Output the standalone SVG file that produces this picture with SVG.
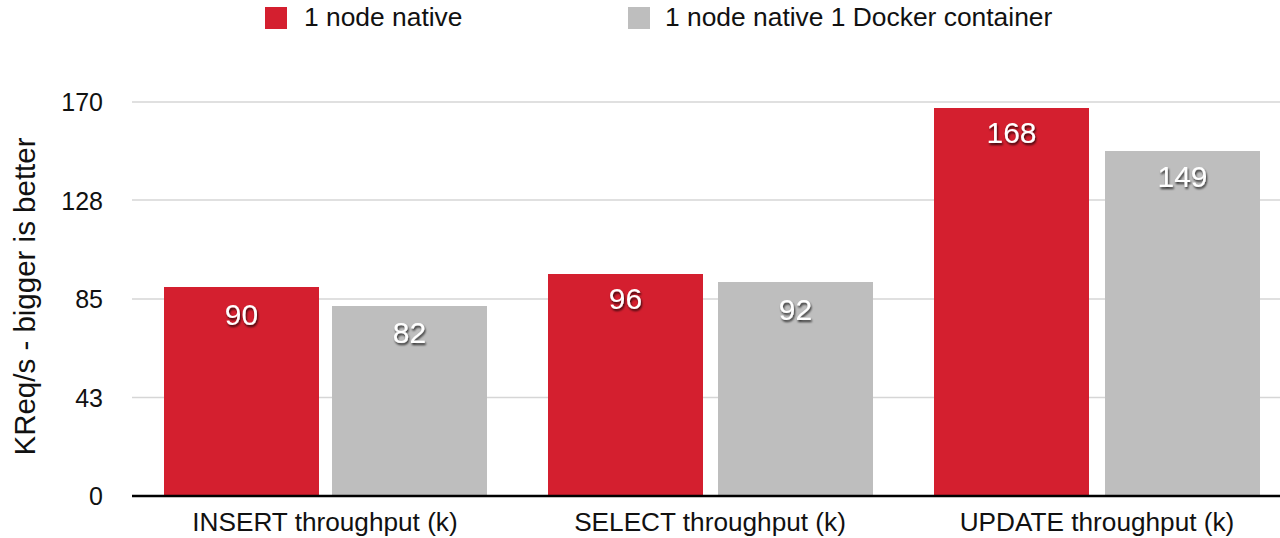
<svg xmlns="http://www.w3.org/2000/svg" width="1280" height="538" viewBox="0 0 1280 538">
<defs>
<style>
.t{font-family:"Liberation Sans",Arial,Helvetica,sans-serif;fill:#111}
.grid{stroke:#d6d6d6;stroke-width:1.5}
.red{fill:#d41f2f}
.gray{fill:#bebebe}
.val{font-family:"Liberation Sans",Arial,Helvetica,sans-serif;font-size:30px;fill:#fff;text-anchor:middle;filter:url(#sh)}
.tick{font-size:25px;text-anchor:end}
.cat{font-size:26.2px;text-anchor:middle}
.leg{font-size:26.4px}
</style>
<filter id="sh" x="-20%" y="-20%" width="140%" height="160%">
<feDropShadow dx="1" dy="2" stdDeviation="1.2" flood-color="#000" flood-opacity="0.75"/>
</filter>
</defs>
<rect width="1280" height="538" fill="#fff"/>
<g id="legend">
<rect class="red" x="265" y="7" width="22" height="22"/>
<text class="t leg" x="304" y="26">1 node native</text>
<rect class="gray" x="628" y="7" width="22" height="22"/>
<text class="t leg" x="665" y="26">1 node native 1 Docker container</text>
</g>
<g id="grid">
<line class="grid" x1="132" y1="102" x2="1280" y2="102"/>
<line class="grid" x1="132" y1="200" x2="1280" y2="200"/>
<line class="grid" x1="132" y1="299" x2="1280" y2="299"/>
<line class="grid" x1="132" y1="397.5" x2="1280" y2="397.5"/>
</g>
<g id="yaxis">
<text class="t tick" x="103" y="111">170</text>
<text class="t tick" x="103" y="210">128</text>
<text class="t tick" x="103" y="308">85</text>
<text class="t tick" x="103" y="407">43</text>
<text class="t tick" x="103" y="505">0</text>
<text class="t" font-size="29.5" text-anchor="middle" transform="translate(35 296.5) rotate(-90)">KReq/s - bigger is better</text>
</g>
<g id="insert">
<rect class="red" x="164" y="287" width="155" height="209"/>
<text class="val" x="241.5" y="325">90</text>
<rect class="gray" x="332" y="306" width="155" height="190"/>
<text class="val" x="409.5" y="343">82</text>
<text class="t cat" x="325" y="531">INSERT throughput (k)</text>
</g>
<g id="select">
<rect class="red" x="548" y="274" width="155" height="222"/>
<text class="val" x="625.5" y="309">96</text>
<rect class="gray" x="718" y="282" width="155" height="214"/>
<text class="val" x="795.5" y="320">92</text>
<text class="t cat" x="710" y="531">SELECT throughput (k)</text>
</g>
<g id="update">
<rect class="red" x="934" y="108" width="155" height="388"/>
<text class="val" x="1011.5" y="143">168</text>
<rect class="gray" x="1105" y="151" width="155" height="345"/>
<text class="val" x="1182.5" y="187">149</text>
<text class="t cat" x="1097" y="531">UPDATE throughput (k)</text>
</g>
<g id="connectors">
<line x1="132" y1="496" x2="1280" y2="496" stroke="#000" stroke-width="2.5"/>
</g>
</svg>
